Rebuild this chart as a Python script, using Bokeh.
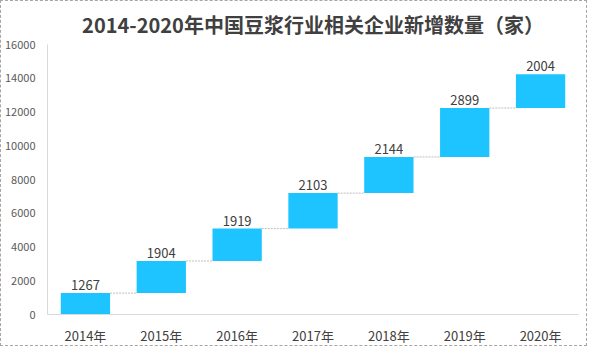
from bokeh.plotting import figure
from bokeh.models import Range1d, FixedTicker, ColumnDataSource, LabelSet
from bokeh.embed import file_html
from bokeh.resources import INLINE
from bokeh.core.properties import value

years = ["2014年", "2015年", "2016年", "2017年", "2018年", "2019年", "2020年"]
increments = [1267, 1904, 1919, 2103, 2144, 2899, 2004]
y_ticks = [0, 2000, 4000, 6000, 8000, 10000, 12000, 14000, 16000]

FONT = "Noto Sans CJK SC"
BAR_W = 0.65

xs = [i + 0.5 for i in range(len(years))]
tops, bottoms = [], []
acc = 0
for v in increments:
    bottoms.append(acc)
    acc += v
    tops.append(acc)

src = ColumnDataSource(dict(x=xs, top=tops, bottom=bottoms,
                            lab=[str(v) for v in increments]))

p = figure(width=587, height=346, output_backend="svg", toolbar_location=None,
           x_range=Range1d(0, len(years)), y_range=Range1d(0, 16000),
           min_border_left=38, min_border_right=10, min_border_bottom=30,
           min_border_top=8)
p.styles = {"border": "1px dashed #a6a6a6"}

p.title.text = "2014-2020年中国豆浆行业相关企业新增数量（家）"
p.title.align = "center"
p.title.text_font = FONT
p.title.text_font_size = "20px"
p.title.text_font_style = "bold"
p.title.text_color = "#404040"
p.title.offset = 0
p.title.standoff = 12

p.outline_line_color = None
p.grid.visible = False

p.vbar(x="x", top="top", bottom="bottom", width=BAR_W, source=src,
       fill_color="#1EC4FF", line_color=None)

# connectors
x0 = [xs[i] + BAR_W / 2 for i in range(len(xs) - 1)]
x1 = [xs[i + 1] - BAR_W / 2 for i in range(len(xs) - 1)]
yy = tops[:-1]
p.segment(x0=x0, y0=yy, x1=x1, y1=yy, line_color="#bfbfbf", line_width=1,
          line_dash="2 1")

labels = LabelSet(x="x", y="top", text="lab", source=src, text_align="center",
                  text_baseline="bottom", y_offset=3, text_font_size="13px",
                  text_color="#404040", text_font=value(FONT))
p.add_layout(labels)

p.yaxis.ticker = FixedTicker(ticks=y_ticks)
p.yaxis.axis_line_color = "#d9d9d9"
p.yaxis.major_tick_line_color = None
p.yaxis.minor_tick_line_color = None
p.yaxis.major_label_text_font = FONT
p.yaxis.major_label_text_font_size = "11px"
p.yaxis.major_label_text_color = "#595959"
p.yaxis.major_label_standoff = 6

p.xaxis.ticker = FixedTicker(ticks=xs)
p.xaxis.major_label_overrides = {x: y for x, y in zip(xs, years)}
p.xaxis.axis_line_color = "#d9d9d9"
p.xaxis.major_tick_line_color = None
p.xaxis.minor_tick_line_color = None
p.xaxis.major_label_text_font = FONT
p.xaxis.major_label_text_font_size = "13px"
p.xaxis.major_label_text_color = "#404040"
p.xaxis.major_label_standoff = 5

open("out.html", "w").write(file_html(p, INLINE))
